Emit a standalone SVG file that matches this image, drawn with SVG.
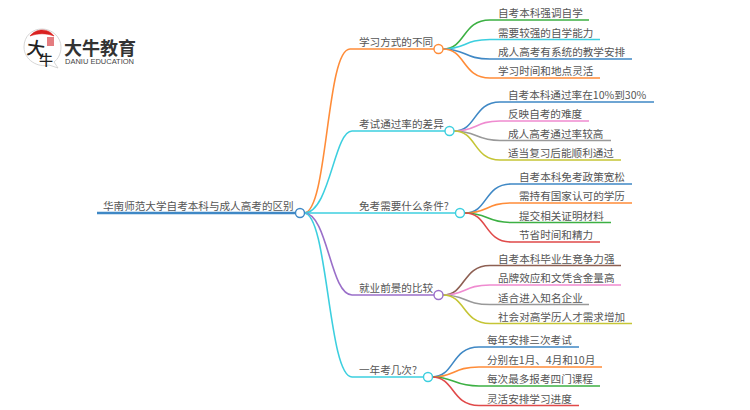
<svg xmlns="http://www.w3.org/2000/svg" width="750" height="410" viewBox="0 0 750 410">
<style>
text{font-family:"Noto Sans CJK SC","Noto Sans",sans-serif;font-size:10.6px;fill:#555}
path{fill:none;stroke-width:1.6}
.n{fill:#fff;stroke-width:1.4}
.root{stroke-width:2.4}
.blue{stroke:#3f88c5}.orange{stroke:#ff8c38}.cyan{stroke:#3ccfdf}.purple{stroke:#9a6fc9}.green{stroke:#3cb043}.red{stroke:#e04a4a}.pink{stroke:#ef8bd0}.gray{stroke:#999}.olive{stroke:#c5c535}.brown{stroke:#8d5f52}
</style>
<rect width="750" height="410" fill="#fff"/>
<g id="connectors">
<path class="blue root" d="M97 213H296"/>
<path class="orange" d="M304 213C328 213 326 49 350 49H434"/>
<path class="cyan" d="M304 213C330 213 334 131 352 131H445"/>
<path class="cyan" d="M304 213H456"/>
<path class="purple" d="M304 213C328 213 330 295 352 295H434"/>
<path class="cyan" d="M304 213C328 213 328 377 352 377H424"/>
<path class="green" d="M443 49C466 49 462 20 490 20H589"/>
<path class="cyan" d="M443 49C466 49 464 39.500 490 39.500H600"/>
<path class="blue" d="M443 49C466 49 464 59 490 59H632"/>
<path class="orange" d="M443 49C466 49 462 78 490 78H600"/>
<path class="blue" d="M454 131C477 131 473 102 500 102H654"/>
<path class="pink" d="M454 131C477 131 475 121 500 121H589"/>
<path class="gray" d="M454 131C477 131 475 140.500 500 140.500H611"/>
<path class="olive" d="M454 131C477 131 473 160 500 160H621"/>
<path class="blue" d="M465 213C488 213 484 184 511 184H632"/>
<path class="orange" d="M465 213C488 213 486 203 511 203H632"/>
<path class="green" d="M465 213C488 213 486 222.500 511 222.500H611"/>
<path class="red" d="M465 213C488 213 484 242 511 242H600"/>
<path class="brown" d="M443 295C466 295 462 265.500 490 265.500H621"/>
<path class="pink" d="M443 295C466 295 464 285 490 285H621"/>
<path class="gray" d="M443 295C466 295 464 304.500 490 304.500H589"/>
<path class="olive" d="M443 295C466 295 462 323.500 490 323.500H632"/>
<path class="blue" d="M432 377C455 377 451 347 479 347H579"/>
<path class="orange" d="M432 377C455 377 453 367 479 367H602"/>
<path class="green" d="M432 377C455 377 453 386 479 386H600"/>
<path class="red" d="M432 377C455 377 451 405.500 479 405.500H579"/>
</g>
<g id="logo">
<path d="M49 65C38 68 24 60 24 47C24 36 32 29 42 29C52 29 61 37 61 47C61 54 58 59 54 62L58 68Z" style="fill:#fff;stroke:#ccc;stroke-width:.8"/>
<path d="M30 36C33 32 38 30 42 30C47 30 51 32 54 36C46 33 38 33 30 36Z" style="fill:#d9201f;stroke:#d9201f;stroke-width:.6"/>
<rect x="47" y="37" width="7" height="9" fill="#d9454a" opacity=".7"/>
<text transform="rotate(8 36 48)" x="27" y="55" style="font-size:18px;font-weight:500;fill:#222">大</text>
<text x="39" y="65" style="font-size:14px;font-weight:500;fill:#222">牛</text>
<text x="64" y="54.500" style="font-size:18px;font-weight:700;fill:#333">大牛教育</text>
<text x="65" y="64" textLength="69" lengthAdjust="spacingAndGlyphs" style="font-family:'Liberation Sans',sans-serif;font-size:7px;fill:#444">DANIU EDUCATION</text>
</g>
<g id="root"><text x="103" y="210">华南师范大学自考本科与成人高考的区别</text><circle class="n blue" cx="300" cy="213" r="4.500"/></g>
<g id="b1"><text x="359" y="46">学习方式的不同</text><circle class="n orange" cx="438.500" cy="49" r="4.500"/></g>
<g id="b2"><text x="359" y="128">考试通过率的差异</text><circle class="n cyan" cx="449.500" cy="131" r="4.500"/></g>
<g id="b3"><text x="359" y="210">免考需要什么条件?</text><circle class="n cyan" cx="460" cy="213" r="4.500"/></g>
<g id="b4"><text x="359" y="292">就业前景的比较</text><circle class="n purple" cx="438.500" cy="295" r="4.500"/></g>
<g id="b5"><text x="359" y="374">一年考几次?</text><circle class="n cyan" cx="428" cy="377" r="4.500"/></g>
<g id="l11"><text x="498" y="17">自考本科强调自学</text></g>
<g id="l12"><text x="498" y="36.500">需要较强的自学能力</text></g>
<g id="l13"><text x="498" y="56">成人高考有系统的教学安排</text></g>
<g id="l14"><text x="498" y="75">学习时间和地点灵活</text></g>
<g id="l21"><text x="508" y="99">自考本科通过率在10%到30%</text></g>
<g id="l22"><text x="508" y="118">反映自考的难度</text></g>
<g id="l23"><text x="508" y="137.500">成人高考通过率较高</text></g>
<g id="l24"><text x="508" y="157">适当复习后能顺利通过</text></g>
<g id="l31"><text x="519" y="181">自考本科免考政策宽松</text></g>
<g id="l32"><text x="519" y="200">需持有国家认可的学历</text></g>
<g id="l33"><text x="519" y="219.500">提交相关证明材料</text></g>
<g id="l34"><text x="519" y="239">节省时间和精力</text></g>
<g id="l41"><text x="498" y="262.500">自考本科毕业生竞争力强</text></g>
<g id="l42"><text x="498" y="282">品牌效应和文凭含金量高</text></g>
<g id="l43"><text x="498" y="301.500">适合进入知名企业</text></g>
<g id="l44"><text x="498" y="320.500">社会对高学历人才需求增加</text></g>
<g id="l51"><text x="487" y="344">每年安排三次考试</text></g>
<g id="l52"><text x="487" y="364">分别在1月、4月和10月</text></g>
<g id="l53"><text x="487" y="383">每次最多报考四门课程</text></g>
<g id="l54"><text x="487" y="402.500">灵活安排学习进度</text></g>
</svg>
